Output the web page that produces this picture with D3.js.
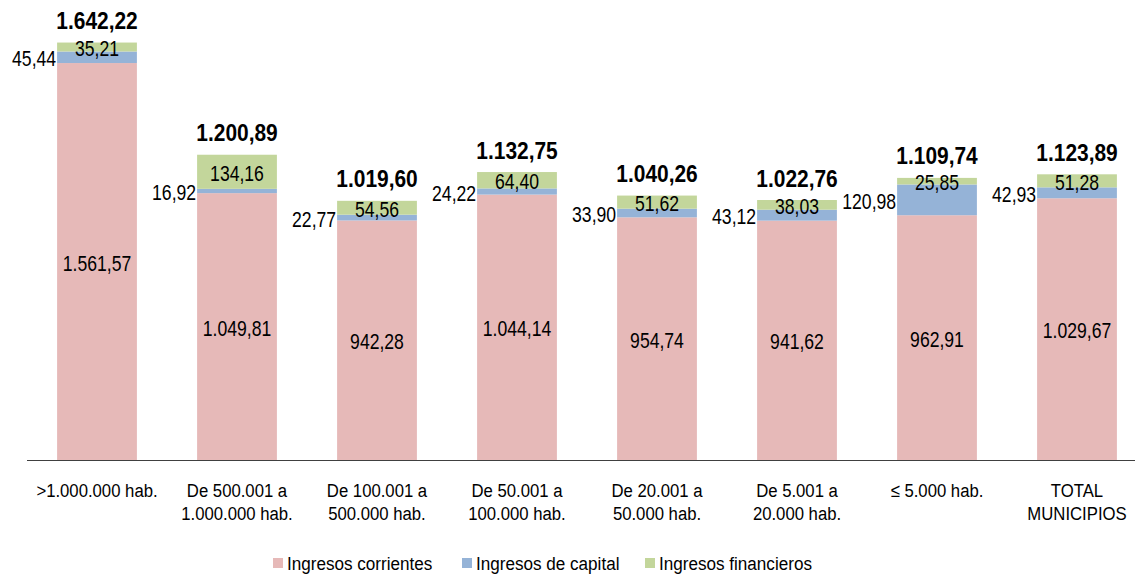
<!DOCTYPE html>
<html><head><meta charset="utf-8">
<script src="https://cdn.jsdelivr.net/npm/d3@7"></script>
<style>
body{margin:0;background:#fff;}
text{font-family:"Liberation Sans Narrow","Arial Narrow","Liberation Sans",sans-serif;fill:#000;}
</style></head>
<body><svg id="c" width="1135" height="575"></svg>
<script>
const categories = [">1.000.000 hab.","De 500.001 a\n1.000.000 hab.","De 100.001 a\n500.000 hab.","De 50.001 a\n100.000 hab.","De 20.001 a\n50.000 hab.","De 5.001 a\n20.000 hab.","≤ 5.000 hab.","TOTAL\nMUNICIPIOS"];
const corrientes = [1561.57,1049.81,942.28,1044.14,954.74,941.62,962.91,1029.67];
const capital = [45.44,16.92,22.77,24.22,33.90,43.12,120.98,42.93];
const financieros = [35.21,134.16,54.56,64.40,51.62,38.03,25.85,51.28];
const totals = [1642.22,1200.89,1019.60,1132.75,1040.26,1022.76,1109.74,1123.89];
const seriesNames = ["Ingresos corrientes","Ingresos de capital","Ingresos financieros"];
const colors = ["#e6b9b8","#95b3d7","#c3d69b"];

const svg = d3.select("#c");
const fmt = v => {
  const s = v.toFixed(2).split(".");
  return s[0].replace(/\B(?=(\d{3})+(?!\d))/g,".")+","+s[1];
};
// narrow text helper: draws text at (x,y) horizontally condensed
function ntext(g, px, py, str, size, sx, anchor, weight){
  return g.append("text")
    .attr("transform",`translate(${px},${py}) scale(${sx},1)`)
    .attr("text-anchor",anchor||"middle")
    .attr("font-size",size)
    .attr("font-weight",weight||"normal")
    .text(str);
}
const x = d3.scaleBand().domain(d3.range(categories.length)).range([27,1147]).paddingInner(0.43).paddingOuter(0.215);
const y = d3.scaleLinear().domain([0,1700]).range([460,460-1700*0.2542]);

const data = categories.map((c,i)=>({i, corrientes:corrientes[i], capital:capital[i], financieros:financieros[i]}));
const stack = d3.stack().keys(["corrientes","capital","financieros"])(data);

stack.forEach((s,k)=>{
  svg.append("g").selectAll("rect").data(s).join("rect")
    .attr("x",d=>x(d.data.i)).attr("width",x.bandwidth())
    .attr("y",d=>y(d[1])).attr("height",d=>y(d[0])-y(d[1]))
    .attr("fill",colors[k]);
});

// axis line
svg.append("line").attr("x1",27).attr("x2",1147).attr("y1",460.5).attr("y2",460.5).attr("stroke","#404040").attr("stroke-width",1.2);

// labels
const lab = svg.append("g");
const LS = 22, LX = 0.8;
stack[0].forEach(d=>{
  ntext(lab, x(d.data.i)+x.bandwidth()/2, (y(d[0])+y(d[1]))/2+9, fmt(d[1]-d[0]), LS, LX);
});
stack[1].forEach(d=>{
  ntext(lab, x(d.data.i)-1, (y(d[0])+y(d[1]))/2+9, fmt(d[1]-d[0]), LS, LX, "end");
});
stack[2].forEach(d=>{
  ntext(lab, x(d.data.i)+x.bandwidth()/2, (y(d[0])+y(d[1]))/2+9, fmt(d[1]-d[0]), LS, LX);
});
totals.forEach((t,i)=>{
  ntext(lab, x(i)+x.bandwidth()/2, y(t)-13.5, fmt(t), 23, 0.91, "middle", "bold");
});

// category labels
categories.forEach((c,i)=>{
  c.split("\n").forEach((ln,j)=>{
    ntext(svg, x(i)+x.bandwidth()/2, 497+j*23, ln, 19, 0.88);
  });
});

// legend
const lx = [273,462,645];
seriesNames.forEach((n,k)=>{
  svg.append("rect").attr("x",lx[k]).attr("y",558).attr("width",10).attr("height",10).attr("fill",colors[k]);
  ntext(svg, lx[k]+14, 570, n, 19, 0.9, "start");
});
</script></body></html>
